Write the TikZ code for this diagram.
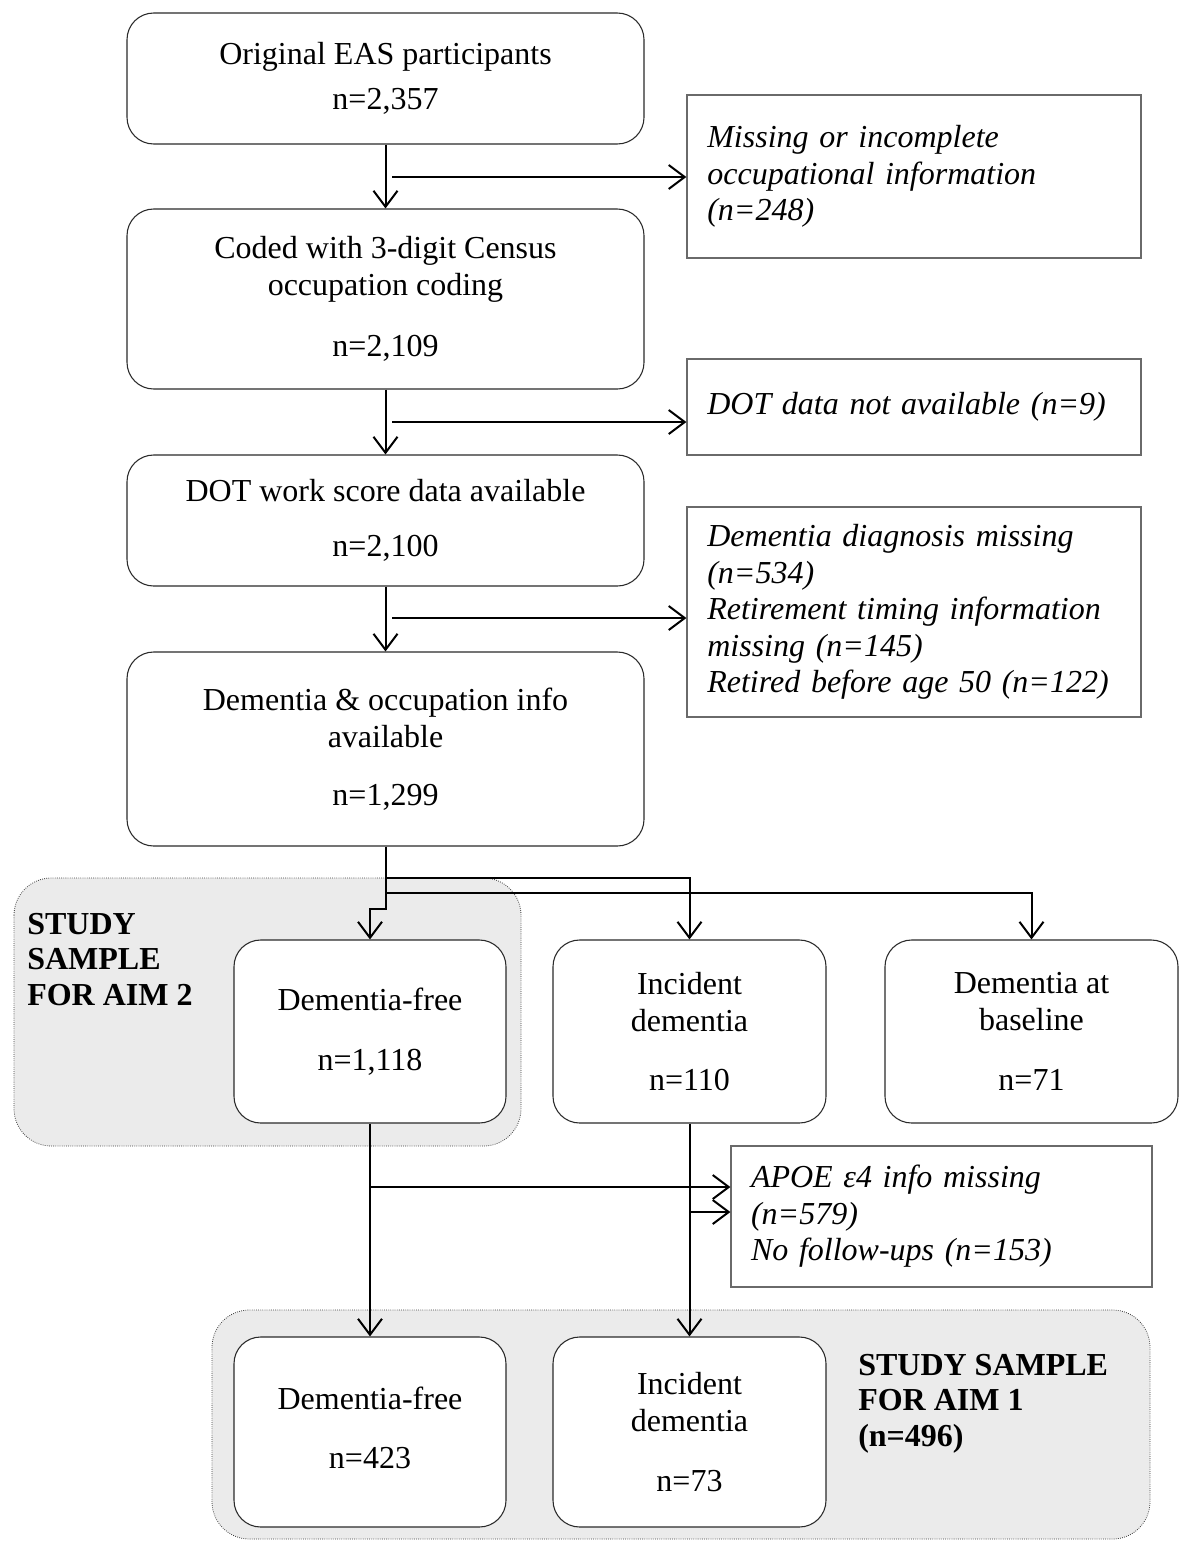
\documentclass[tikz,border=0pt]{standalone}
\usepackage{fontspec}
\setmainfont{Liberation Serif}
\newfontfamily\notefam[WordSpace=0.7]{Liberation Serif}
\usetikzlibrary{arrows.meta,fit}
\definecolor{aimgray}{HTML}{EBEBEB}
\definecolor{boxline}{HTML}{2A2A2A}
\definecolor{noteline}{HTML}{6A6A6A}
\newcommand\mynotefont{\notefam\fontsize{24pt}{27.4pt}\selectfont\itshape}
\begin{document}
\begin{tikzpicture}[x=0.75pt,y=-0.75pt,
  every node/.style={font=\fontsize{24pt}{27.75pt}\selectfont},
  rbox/.style={draw=boxline, line width=0.8pt, rounded corners=20pt, fill=white, inner sep=0pt},
  note/.style={draw=noteline, line width=0.9pt, fill=white, inner sep=0pt},
  btext/.style={align=center, inner sep=0pt},
  ntext/.style={align=left, inner sep=0pt, font=\mynotefont},
  aim/.style={draw=black!75, densely dotted, line width=0.6pt, fill=aimgray, rounded corners=28pt},
  conn/.style={line width=1.5pt, -{Straight Barb[length=12pt,width=18pt,line width=1.5pt]}},
  aimlabel/.style={font=\fontsize{24pt}{26.5pt}\selectfont\bfseries, align=left, inner sep=0pt, anchor=north west}
]
\useasboundingbox (0,0) rectangle (1182,1542);
\fill[white] (0,0) rectangle (1182,1542);

% shaded study-sample regions
\draw[aim] (14,878) rectangle (521,1146);
\draw[aim] (212,1310) rectangle (1150,1539);
\node[aimlabel] (aim2lab) at (27,913) {STUDY\\SAMPLE\\FOR AIM 2};
\node[aimlabel] (aim1lab) at (858,1354) {STUDY SAMPLE\\FOR AIM 1\\(n=496)};

% main column
\node[rbox, fit={(127,13) (644,144)}] (b1) {};
\node[btext] (b1t) at (b1) {Original EAS participants\\[6pt]n=2,357};
\node[rbox, fit={(127,209) (644,389)}] (b2) {};
\node[btext] (b2t) at (b2) {Coded with 3-digit Census\\occupation coding\\[18pt]n=2,109};
\node[rbox, fit={(127,455) (644,586)}] (b3) {};
\node[btext] (b3t) at (b3) {DOT work score data available\\[14pt]n=2,100};
\node[rbox, fit={(127,652) (644,846)}] (b4) {};
\node[btext] (b4t) at (b4) {Dementia \& occupation info\\available\\[16pt]n=1,299};

% exclusion notes
\node[note, fit={(687,95) (1141,258)}] (n1) {};
\node[ntext, text width=310pt] (n1t) at (n1) {Missing or incomplete\\occupational information\\(n=248)};
\node[note, fit={(687,359) (1141,455)}] (n2) {};
\node[ntext, text width=310pt] (n2t) at (n2) {DOT data not available (n=9)};
\node[note, fit={(687,507) (1141,717)}] (n3) {};
\node[ntext, text width=310pt] (n3t) at (n3) {Dementia diagnosis missing\\(n=534)\\Retirement timing information\\missing (n=145)\\Retired before age 50 (n=122)};
\node[note, fit={(731,1146) (1152,1287)}] (n4) {};
\node[ntext, text width=285.75pt] (n4t) at (n4) {APOE ε4 info missing\\(n=579)\\No follow-ups (n=153)};

% middle row
\node[rbox, fit={(234,940) (506,1123)}] (m1) {};
\node[btext] (m1t) at (m1) {Dementia-free\\[17pt]n=1,118};
\node[rbox, fit={(553,940) (826,1123)}] (m2) {};
\node[btext] (m2t) at (m2) {Incident\\dementia\\[17pt]n=110};
\node[rbox, fit={(885,940) (1178,1123)}] (m3) {};
\node[btext] (m3t) at (m3) {Dementia at\\baseline\\[17pt]n=71};

% bottom row
\node[rbox, fit={(234,1337) (506,1527)}] (f1) {};
\node[btext] (f1t) at ([yshift=3pt]f1.center) {Dementia-free\\[17pt]n=423};
\node[rbox, fit={(553,1337) (826,1527)}] (f2) {};
\node[btext] (f2t) at (f2) {Incident\\dementia\\[17pt]n=73};

% connectors
\draw[conn] (b1.south) -- (b2.north);
\draw[conn] (b2.south) -- (b3.north);
\draw[conn] (b3.south) -- (b4.north);
\coordinate (h1) at (392,177);
\coordinate (h2) at (392,422);
\coordinate (h3) at (392,618);
\draw[conn] (h1) -- (h1 -| n1.west);
\draw[conn] (h2) -- (h2 -| n2.west);
\draw[conn] (h3) -- (h3 -| n3.west);

\coordinate (j1) at (b4.south |- 0,909);
\coordinate (j2) at (b4.south |- 0,878);
\coordinate (j3) at (b4.south |- 0,893);
\draw[conn] (b4.south) -- (j1) -| (m1.north);
\draw[conn] (j2) -| (m2.north);
\draw[conn] (j3) -| (m3.north);

\draw[conn] (m1.south) -- (f1.north);
\draw[conn] (m2.south) -- (f2.north);
\coordinate (k1) at (m1.south |- 0,1187);
\coordinate (k2) at (m2.south |- 0,1212);
\draw[conn] (k1) -- (k1 -| n4.west);
\draw[conn] (k2) -- (k2 -| n4.west);
\end{tikzpicture}
\end{document}
